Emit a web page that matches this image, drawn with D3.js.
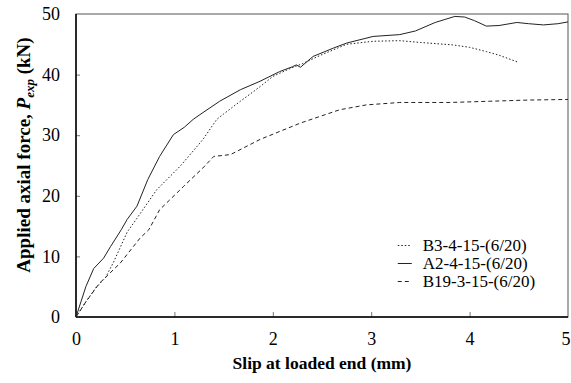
<!DOCTYPE html>
<html>
<head>
<meta charset="utf-8">
<script src="https://cdn.jsdelivr.net/npm/d3@7"></script>
<style>
  body { margin: 0; background: #fff; }
  svg text { font-family: "Liberation Serif", "Times New Roman", serif; fill: #000; }
</style>
</head>
<body>
<div id="chart"></div>
<script>
// series values: [slip (mm), force (kN)]
const b3 = [[0,0],[0.1,2.5],[0.2,4.8],[0.3,6.5],[0.38,9],[0.45,11.5],[0.52,14],[0.62,16.3],
  [0.82,21],[1.06,24.9],[1.29,29.3],[1.43,32.6],[1.5,33.5],[1.67,35.6],[1.87,38],[2.0,39.7],
  [2.19,41.1],[2.3,41.8],[2.5,43.3],[2.75,45.0],[3.02,45.5],[3.29,45.6],[3.5,45.3],[3.83,44.9],
  [4.0,44.5],[4.17,43.8],[4.3,43.2],[4.5,42.0]];
const a2 = [[0,0],[0.05,2.5],[0.1,5],[0.18,8],[0.28,9.7],[0.35,11.6],[0.46,14.4],[0.52,16.1],
  [0.62,18.3],[0.73,22.7],[0.85,26.5],[0.99,30.1],[1.1,31.3],[1.19,32.6],[1.26,33.4],[1.46,35.6],
  [1.67,37.5],[1.87,38.9],[2.07,40.5],[2.2,41.3],[2.24,41.6],[2.28,41.2],[2.41,43],[2.62,44.4],
  [2.75,45.2],[3.02,46.3],[3.29,46.6],[3.45,47.2],[3.65,48.6],[3.85,49.6],[3.95,49.5],[4.05,48.9],
  [4.17,48.0],[4.3,48.1],[4.48,48.6],[4.6,48.4],[4.75,48.2],[4.9,48.4],[5.0,48.7]];
const b19 = [[0,0],[0.1,2.5],[0.24,5.6],[0.45,8.9],[0.65,13],[0.74,14.4],[0.85,17.7],[1.09,21.5],
  [1.29,24.6],[1.4,26.5],[1.57,26.8],[1.87,29.3],[2.28,32],[2.68,34.2],[2.95,35],[3.29,35.4],
  [3.8,35.4],[4.2,35.6],[4.6,35.8],[5.0,35.9]];

const seriesNames = ["B3-4-15-(6/20)", "A2-4-15-(6/20)", "B19-3-15-(6/20)"];
const xTicks = [0, 1, 2, 3, 4, 5];
const yTicks = [0, 10, 20, 30, 40, 50];

const series = [
  { name: seriesNames[0], values: b3, dash: "1.5,2" },
  { name: seriesNames[1], values: a2, dash: null },
  { name: seriesNames[2], values: b19, dash: "4,3" }
];

const width = 571, height = 383;
const m = { top: 14, right: 3, bottom: 66, left: 76 };
const w = width - m.left - m.right;
const h = height - m.top - m.bottom;

const svg = d3.select("#chart").append("svg")
  .attr("width", width)
  .attr("height", height);

const g = svg.append("g").attr("transform", `translate(${m.left},${m.top})`);

const x = d3.scaleLinear().domain([0, 5]).range([0, w]);
const y = d3.scaleLinear().domain([0, 50]).range([h, 0]);

// inward ticks
const xAxis = g.append("g")
  .attr("transform", `translate(0,${h})`)
  .call(d3.axisBottom(x).tickValues(xTicks).tickSize(-5).tickPadding(15).tickFormat(d3.format("d")));
const yAxis = g.append("g")
  .call(d3.axisLeft(y).tickValues(yTicks).tickSize(-4).tickPadding(16).tickFormat(d3.format("d")));

[xAxis, yAxis].forEach(a => {
  a.attr("font-family", null).attr("font-size", null);
  a.select(".domain").remove();
  a.selectAll(".tick line").attr("stroke", "#777");
  a.selectAll("text")
    .style("font-size", "18px")
    .style("font-family", "'Liberation Serif', serif");
});
xAxis.selectAll(".tick").filter(d => d === 0 || d === 5).select("line").remove();
yAxis.selectAll(".tick").filter(d => d === 0 || d === 50).select("line").remove();
// last x label sits right at the edge of the page
xAxis.selectAll(".tick").filter(d => d === 5).select("text").attr("x", -2.5);

// frame
g.append("rect")
  .attr("width", w).attr("height", h)
  .attr("fill", "none")
  .attr("stroke", "#555")
  .attr("stroke-width", 1);
g.append("line").attr("x1", 0).attr("x2", w).attr("y1", h).attr("y2", h)
  .attr("stroke", "#000").attr("stroke-width", 1.5);
g.append("line").attr("x1", 0).attr("x2", 0).attr("y1", 0).attr("y2", h)
  .attr("stroke", "#000").attr("stroke-width", 1.5);

// lines
const line = d3.line().x(d => x(d[0])).y(d => y(d[1]));
g.selectAll(".line")
  .data(series)
  .join("path")
  .attr("class", "line")
  .attr("fill", "none")
  .attr("stroke", "#222")
  .attr("stroke-width", 1)
  .attr("stroke-dasharray", d => d.dash)
  .attr("d", d => line(d.values));

// legend
const leg = g.append("g").attr("transform", `translate(${x(3.27)},${y(11.8)})`);
const rows = leg.selectAll("g")
  .data(series)
  .join("g")
  .attr("transform", (d, i) => `translate(0,${i * 18})`);
rows.append("line")
  .attr("x1", 0).attr("x2", 14)
  .attr("stroke", "#222")
  .attr("stroke-dasharray", d => d.dash);
rows.append("text")
  .attr("x", 25)
  .attr("dy", "0.35em")
  .style("font-size", "17px")
  .text(d => d.name);

// axis titles
svg.append("text")
  .attr("x", m.left + w / 2)
  .attr("y", 369)
  .attr("text-anchor", "middle")
  .style("font-size", "17.5px")
  .attr("font-weight", "bold")
  .text("Slip at loaded end (mm)");

const yt = svg.append("text")
  .attr("transform", `translate(30,155) rotate(-90)`)
  .attr("text-anchor", "middle")
  .style("font-size", "19px")
  .attr("font-weight", "bold");
yt.append("tspan").text("Applied axial force, ");
yt.append("tspan").attr("font-style", "italic").text("P");
yt.append("tspan").attr("font-style", "italic").style("font-size", "13px").attr("dy", 4).text("exp");
yt.append("tspan").attr("dy", -4).text(" (kN)");
</script>
</body>
</html>
